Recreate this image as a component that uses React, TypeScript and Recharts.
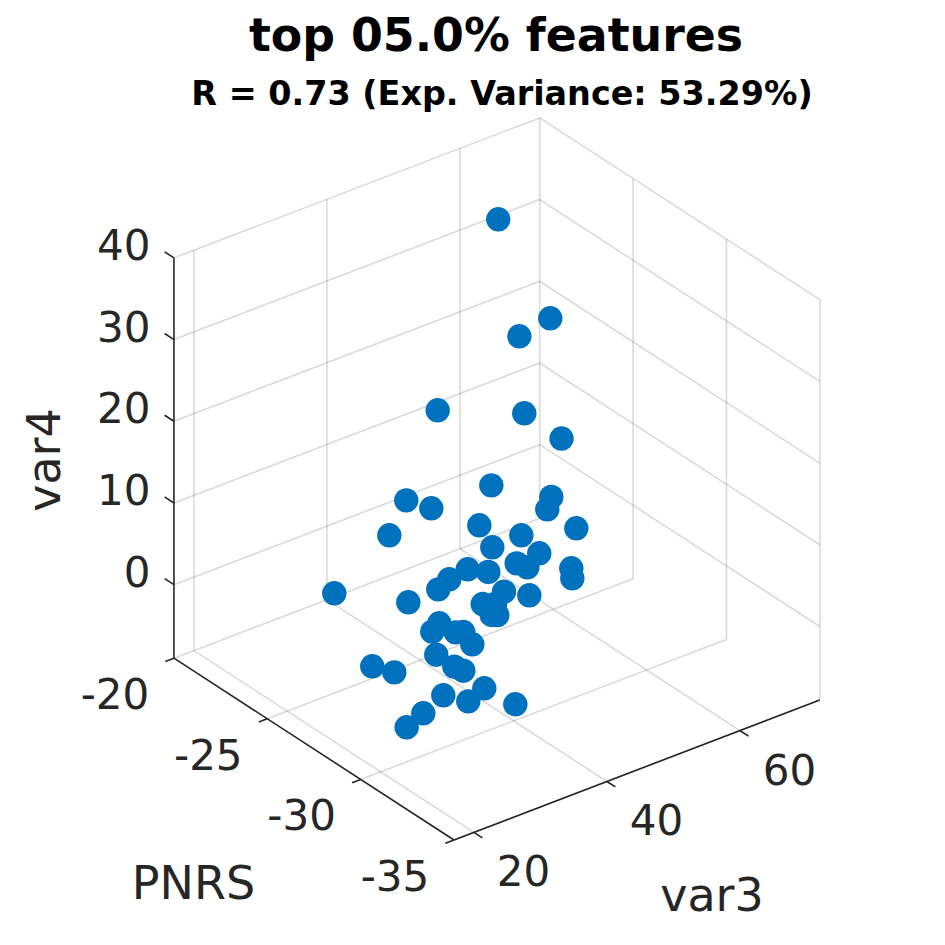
import React from "react";
import { ScatterChart, Scatter, XAxis, YAxis, ReferenceLine, ReferenceDot } from "recharts";

const var3Values = [57.35, 62.36, 52.09, 42.62, 50.03, 52.82, 47.88, 37.9, 36.05, 48.48, 50.68, 49.43, 32.54, 40.46, 43.97, 45.22, 43.86, 43.27, 47.68, 39.0, 38.71, 38.75, 31.48, 45.87, 48.83, 29.88, 38.56, 45.17, 32.59, 38.16, 42.32, 37.55, 34.4, 34.44, 27.77, 34.1, 29.63, 33.79, 31.18, 28.28, 26.82, 27.17, 24.87, 27.17, 26.62, 27.57, 29.03, 23.61, 23.92];
const pnrsValues = [-23, -24, -26, -25, -27, -28, -26, -25, -27, -29, -28, -30, -26, -28, -29, -27, -30, -29, -28, -29, -28, -27, -29, -31, -30, -24, -30, -29, -27, -29, -28, -30, -31, -28, -30, -29, -31, -30, -29, -31, -32, -27, -29, -33, -31, -32, -34, -31, -30];
const var4Values = [36.6, 24.41, 28.37, 20.78, 21.07, 18.6, 11.44, 11.23, 13.8, 14.28, 10.6, 11.63, 10.1, 11.83, 10.99, 6.17, 10.31, 7.78, 4.44, 8.05, 6.99, 4.27, 8.27, 9.33, 5.7, 0.87, 7.26, 3.28, 3.37, 4.39, 0.27, 4.72, 8.53, 1.71, 5.72, 2.19, 6.59, 2.31, 0.36, 2.76, 4.21, -2.77, 0.17, 3.43, -0.22, 0.23, 2.38, -1.48, -4.78];

const var3Ticks = [20, 40, 60];
const pnrsTicks = [-20, -25, -30, -35];
const var4Ticks = [0, 10, 20, 30, 40];
const var3Range = [17, 72];
const pnrsRange = [-35, -20];
const var4Range = [-9, 40];

const SIZE = 945;
const INK = "#262626";
const FONT = "'DejaVu Sans'";

// fixed view of the box, returns a point in the chart's plane
function project(v3: number, p: number, v4: number) {
  const a = v3 - var3Range[0];
  const b = p - pnrsRange[0];
  const c = v4 - var4Range[0];
  return {
    x: 454 + 6.65 * a - 18.67 * b,
    y: 840 - 2.545 * a - 12.12 * b - 8.17 * c,
  };
}

const points = var3Values.map((v, i) => project(v, pnrsValues[i], var4Values[i]));

type Pt = { x: number; y: number };
const [v3Lo, v3Hi] = var3Range;
const [pLo, pHi] = pnrsRange;
const [v4Lo, v4Hi] = var4Range;

const gridLines: [Pt, Pt][] = [
  ...var3Ticks.map((t): [Pt, Pt] => [project(t, pHi, v4Lo), project(t, pHi, v4Hi)]),
  ...var3Ticks.map((t): [Pt, Pt] => [project(t, pHi, v4Lo), project(t, pLo, v4Lo)]),
  ...pnrsTicks.map((t): [Pt, Pt] => [project(v3Hi, t, v4Lo), project(v3Hi, t, v4Hi)]),
  ...pnrsTicks.map((t): [Pt, Pt] => [project(v3Lo, t, v4Lo), project(v3Hi, t, v4Lo)]),
  ...var4Ticks.map((t): [Pt, Pt] => [project(v3Lo, pHi, t), project(v3Hi, pHi, t)]),
  ...var4Ticks.map((t): [Pt, Pt] => [project(v3Hi, pHi, t), project(v3Hi, pLo, t)]),
];

const axisLines: [Pt, Pt][] = [
  [project(v3Lo, pHi, v4Lo), project(v3Lo, pHi, v4Hi)],
  [project(v3Lo, pHi, v4Lo), project(v3Lo, pLo, v4Lo)],
  [project(v3Lo, pLo, v4Lo), project(v3Hi, pLo, v4Lo)],
  ...var4Ticks.map((t): [Pt, Pt] => [project(v3Lo, pHi, t), project(v3Lo, pHi + 0.5, t)]),
  ...pnrsTicks.map((t): [Pt, Pt] => [project(v3Lo, t, v4Lo), project(v3Lo - 1.3, t, v4Lo)]),
  ...var3Ticks.map((t): [Pt, Pt] => [project(t, pLo, v4Lo), project(t, pLo - 0.45, v4Lo)]),
];

const labelDot = (key: string, at: Pt, text: string, size: number, opts: { anchor?: string; bold?: boolean; rotate?: number; color?: string } = {}) => (
  <ReferenceDot
    key={key}
    x={at.x}
    y={at.y}
    r={0}
    ifOverflow="visible"
    shape={(p: any) => (
      <text
        x={p.cx}
        y={p.cy}
        textAnchor={opts.anchor ?? "middle"}
        dominantBaseline="central"
        fontFamily={FONT}
        fontSize={size}
        fontWeight={opts.bold ? "bold" : "normal"}
        fill={opts.color ?? INK}
        transform={opts.rotate ? `rotate(${opts.rotate} ${p.cx} ${p.cy})` : undefined}
      >
        {text}
      </text>
    )}
  />
);

const shift = (a: Pt, dx: number, dy: number) => ({ x: a.x + dx, y: a.y + dy });

export default function App() {
  return (
    <div style={{ position: "absolute", left: 0, top: 0, width: SIZE, height: SIZE, background: "#fff" }}>
      <ScatterChart width={SIZE} height={SIZE} margin={{ top: 0, right: 0, bottom: 0, left: 0 }}>
        <XAxis type="number" dataKey="x" domain={[0, SIZE]} hide />
        <YAxis type="number" dataKey="y" domain={[0, SIZE]} reversed hide />
        {gridLines.map((seg, i) => (
          <ReferenceLine key={`g${i}`} segment={seg} stroke={INK} strokeOpacity={0.17} strokeWidth={1.6} />
        ))}
        {axisLines.map((seg, i) => (
          <ReferenceLine key={`a${i}`} segment={seg} stroke={INK} strokeWidth={1.6} />
        ))}
        <Scatter
          data={points}
          isAnimationActive={false}
          shape={(p: any) => <circle cx={p.cx} cy={p.cy} r={12.2} fill="#0072BD" />}
        />
        {var4Ticks.map((t) => labelDot(`z${t}`, shift(project(v3Lo, pHi, t), -23.5, -12.5), String(t), 42, { anchor: "end" }))}
        {pnrsTicks.map((t) => labelDot(`p${t}`, shift(project(v3Lo, t, v4Lo), -59, 36.5), String(t), 42))}
        {var3Ticks.map((t) => labelDot(`x${t}`, shift(project(t, pLo, v4Lo), 49.5, 39.5), String(t), 42))}
        {labelDot("xl", { x: 712, y: 895 }, "var3", 46)}
        {labelDot("yl", { x: 193.5, y: 883 }, "PNRS", 46)}
        {labelDot("zl", { x: 44, y: 460 }, "var4", 46, { rotate: -90 })}
        {labelDot("t1", { x: 496, y: 35 }, "top 05.0% features", 45.8, { bold: true, color: "#000" })}
        {labelDot("t2", { x: 502, y: 93 }, "R = 0.73 (Exp. Variance: 53.29%)", 33.4, { bold: true, color: "#000" })}
      </ScatterChart>
    </div>
  );
}
